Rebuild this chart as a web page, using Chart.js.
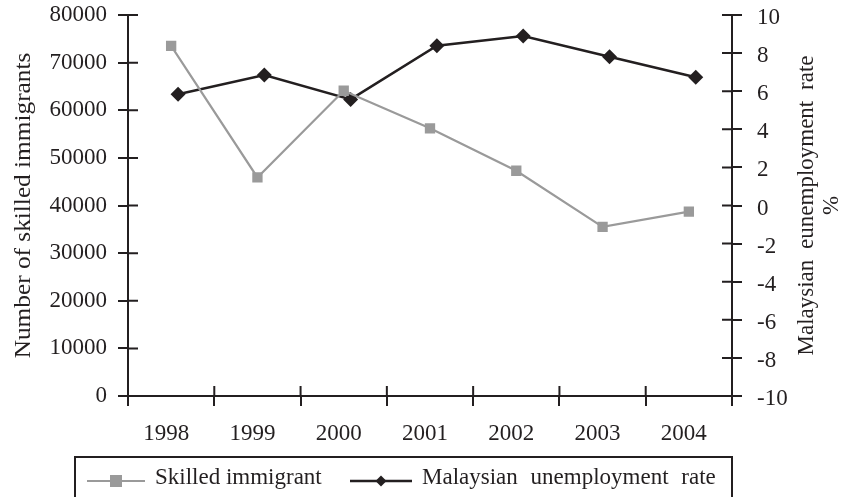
<!DOCTYPE html>
<html>
<head>
<meta charset="utf-8">
<title>Skilled immigrants and Malaysian unemployment rate, 1998-2004</title>
<script src="https://cdn.jsdelivr.net/npm/chart.js@4/dist/chart.umd.min.js"></script>
<style>
  html, body { margin: 0; padding: 0; background: #ffffff; }
  #wrap { width: 843px; height: 497px; overflow: hidden; }
</style>
</head>
<body>
<div id="wrap"><canvas id="chart" width="843" height="497"></canvas></div>
<script>
// Years on the horizontal axis
const years = ['1998', '1999', '2000', '2001', '2002', '2003', '2004'];
// Number of skilled immigrants (left axis)
const skilledImmigrants = [73500, 45900, 64100, 56200, 47300, 35500, 38700];
// Malaysian unemployment rate, % (right axis)
const unemploymentRate = [5.84, 6.85, 5.57, 8.39, 8.9, 7.81, 6.73];

const leftTitle = 'Number of skilled immigrants';
const rightTitle = ['Malaysian eunemployment rate', '%'];
const seriesNames = ['Skilled immigrant', 'Malaysian unemployment rate'];

const INK = '#231f20';
const GREY = '#9a9a9a';
const SERIF = '"Liberation Serif", "Times New Roman", Times, serif';
const FONT_PX = 23;

// Tick marks that cross each axis: Chart.js draws the outer half,
// this plugin adds the half that reaches into the plot area.
const innerTicks = {
  id: 'innerTicks',
  beforeDatasetsDraw(chart) {
    const ctx = chart.ctx;
    const len = 10;
    ctx.save();
    ctx.strokeStyle = INK;
    ctx.lineWidth = 2;
    ctx.beginPath();
    const y = chart.scales.y;
    y.ticks.forEach((t, i) => {
      const p = y.getPixelForTick(i);
      ctx.moveTo(y.right, p); ctx.lineTo(y.right + len, p);
    });
    const y2 = chart.scales.y2;
    y2.ticks.forEach((t, i) => {
      const p = y2.getPixelForTick(i);
      ctx.moveTo(y2.left - len, p); ctx.lineTo(y2.left, p);
    });
    const x = chart.scales.x;
    for (let i = 0; i <= years.length; i++) {
      const p = x.getPixelForValue(i - 0.5);
      ctx.moveTo(p, x.top); ctx.lineTo(p, x.top - len);
    }
    ctx.stroke();
    ctx.restore();
  }
};

// Vertical axis titles, both reading bottom to top
const axisTitles = {
  id: 'axisTitles',
  afterDraw(chart) {
    const ctx = chart.ctx;
    const area = chart.chartArea;
    const cy = (area.top + area.bottom) / 2;
    const draw = (text, x, stretch, spacing) => {
      ctx.save();
      ctx.translate(x, cy);
      ctx.rotate(-Math.PI / 2);
      ctx.scale(stretch, 1);
      ctx.font = FONT_PX + 'px ' + SERIF;
      ctx.fillStyle = INK;
      ctx.textAlign = 'center';
      ctx.textBaseline = 'middle';
      if ('wordSpacing' in ctx) ctx.wordSpacing = spacing + 'px';
      ctx.fillText(text, 0, 0);
      ctx.restore();
    };
    draw(leftTitle, 24, 1.1, 0);
    draw(rightTitle[0], 807, 1, 5);
    draw(rightTitle[1], 832, 1, 0);
  }
};

// Boxed legend under the axis, with line-and-marker samples
const boxedLegend = {
  id: 'boxedLegend',
  afterDraw(chart) {
    const ctx = chart.ctx;
    const area = chart.chartArea;
    const top = 457;
    ctx.save();
    ctx.strokeStyle = INK;
    ctx.lineWidth = 2;
    ctx.strokeRect(75, top, area.right - 75, 80);

    const rowY = 481;
    const items = [
      { x0: 87, x1: 145, textX: 155 },
      { x0: 350, x1: 412, textX: 422 }
    ];
    chart.data.datasets.forEach((ds, i) => {
      const it = items[i];
      ctx.strokeStyle = ds.borderColor;
      ctx.lineWidth = ds.borderWidth;
      ctx.beginPath();
      ctx.moveTo(it.x0, rowY); ctx.lineTo(it.x1, rowY);
      ctx.stroke();
      const cx = (it.x0 + it.x1) / 2;
      ctx.fillStyle = ds.pointBackgroundColor;
      if (ds.pointStyle === 'rect') {
        ctx.fillRect(cx - 6, rowY - 6, 12, 12);
      } else {
        ctx.beginPath();
        ctx.moveTo(cx, rowY - 5.5);
        ctx.lineTo(cx + 5.5, rowY);
        ctx.lineTo(cx, rowY + 5.5);
        ctx.lineTo(cx - 5.5, rowY);
        ctx.closePath();
        ctx.fill();
      }
      ctx.fillStyle = INK;
      ctx.font = FONT_PX + 'px ' + SERIF;
      ctx.textAlign = 'left';
      ctx.textBaseline = 'alphabetic';
      if ('wordSpacing' in ctx) ctx.wordSpacing = i === 1 ? '7px' : '0px';
      ctx.fillText(ds.label, it.textX, 484);
    });
    ctx.restore();
  }
};

const tickFont = { family: SERIF, size: FONT_PX };

// Fixed axis band sizes; the plot area inset comes from layout padding only
const fixedBand = (w, h) => (s) => {
  if (w !== null) s.width = w;
  if (h !== null) s.height = h;
  s.paddingTop = 0; s.paddingBottom = 0;
  s.paddingLeft = 0; s.paddingRight = 0;
};

new Chart(document.getElementById('chart'), {
  type: 'line',
  data: {
    labels: years,
    datasets: [
      {
        label: seriesNames[0],
        data: skilledImmigrants,
        xAxisID: 'x',
        yAxisID: 'y',
        borderColor: GREY,
        borderWidth: 2.2,
        pointStyle: 'rect',
        pointRadius: 7.3,
        pointBackgroundColor: GREY,
        pointBorderWidth: 0,
        tension: 0
      },
      {
        label: seriesNames[1],
        data: unemploymentRate.map((v, i) => ({ x: i, y: v })),
        xAxisID: 'xRate',
        yAxisID: 'y2',
        borderColor: INK,
        borderWidth: 2.6,
        pointStyle: 'rectRot',
        pointRadius: 7.5,
        pointBackgroundColor: INK,
        pointBorderWidth: 0,
        tension: 0
      }
    ]
  },
  options: {
    responsive: false,
    devicePixelRatio: 1,
    animation: false,
    events: [],
    layout: { padding: { top: 15, left: 0, right: 0, bottom: 0 } },
    plugins: { legend: { display: false }, tooltip: { enabled: false } },
    scales: {
      x: {
        type: 'category',
        position: 'bottom',
        offset: true,
        grid: { display: true, drawOnChartArea: false, drawTicks: true, tickLength: 10, offset: true, color: INK, lineWidth: 2 },
        border: { display: true, color: INK, width: 2 },
        ticks: { font: tickFont, color: INK, padding: 14, labelOffset: -5, maxRotation: 0, autoSkip: false },
        afterFit: fixedBand(null, 101)
      },
      xRate: {
        type: 'linear',
        position: 'bottom',
        display: false,
        min: -0.58,
        max: 6.42
      },
      y: {
        type: 'linear',
        position: 'left',
        min: 0,
        max: 80000,
        grid: { display: true, drawOnChartArea: false, drawTicks: true, tickLength: 10, color: INK, lineWidth: 2 },
        border: { display: true, color: INK, width: 2 },
        ticks: { stepSize: 10000, font: tickFont, color: INK, padding: 11, callback: v => String(v) },
        afterFit: fixedBand(128, null)
      },
      y2: {
        type: 'linear',
        position: 'right',
        min: -10,
        max: 10,
        grid: { display: true, drawOnChartArea: false, drawTicks: true, tickLength: 10, color: INK, lineWidth: 2 },
        border: { display: true, color: INK, width: 2 },
        ticks: { stepSize: 2, font: tickFont, color: INK, padding: 15, labelOffset: 3, callback: v => String(v) },
        afterFit: fixedBand(111, null)
      }
    }
  },
  plugins: [innerTicks, axisTitles, boxedLegend]
});
</script>
</body>
</html>
